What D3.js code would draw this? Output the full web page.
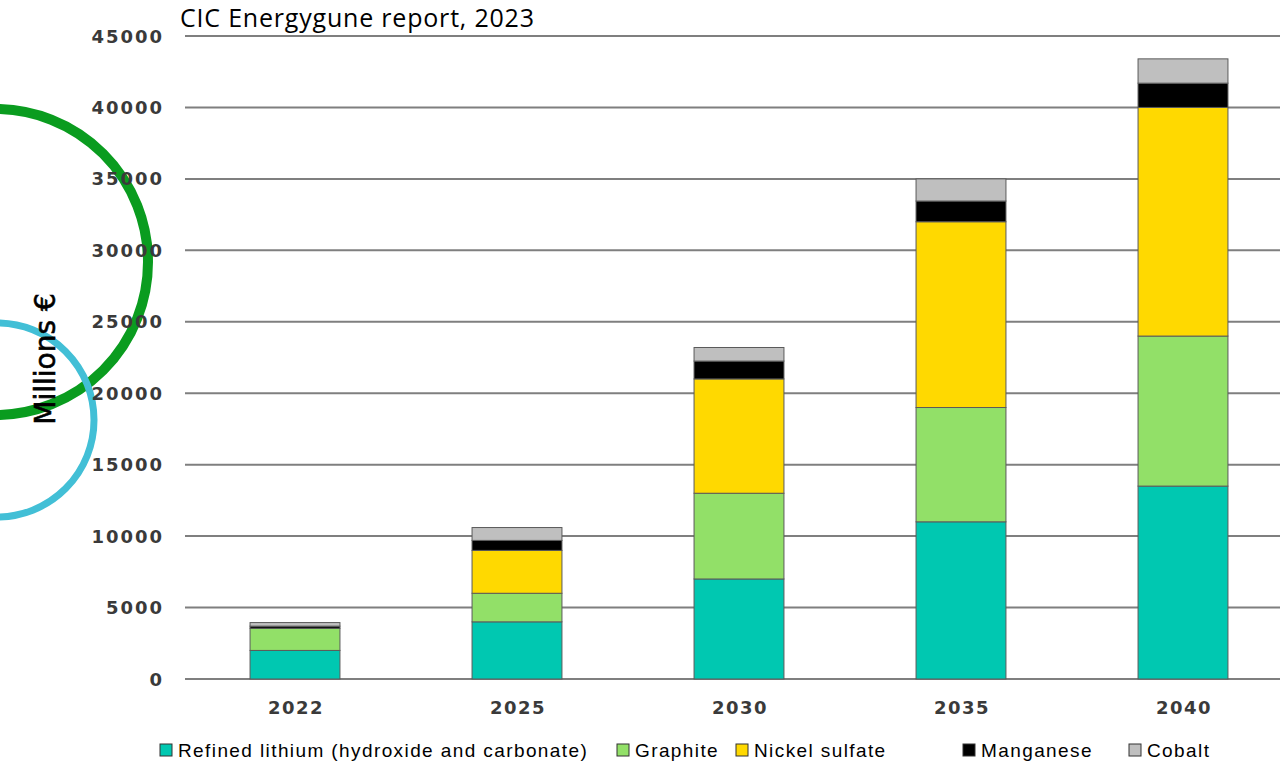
<!DOCTYPE html>
<html><head><meta charset="utf-8">
<script src="https://cdn.jsdelivr.net/npm/d3@7"></script>
<style>body{margin:0;background:#fff}svg{display:block}</style>
</head><body><svg id="c" width="1280" height="761"></svg>
<script>
const years = ["2022","2025","2030","2035","2040"];
const seriesNames = ["Refined lithium (hydroxide and carbonate)","Graphite","Nickel sulfate","Manganese","Cobalt"];
const lithium = [2000,4000,7000,11000,13500];
const graphite = [1550,2000,6000,8000,10500];
const nickel = [0,3000,8000,13000,16000];
const manganese = [150,700,1250,1450,1700];
const cobalt = [250,900,950,1550,1700];
const yTicks = [0,5000,10000,15000,20000,25000,30000,35000,40000,45000];
const colors = ["#00c8b1","#92e068","#ffd900","#000000","#bfbfbf"];

const svg = d3.select("#c");
const rows = years.map((y,i)=>({year:y,s0:lithium[i],s1:graphite[i],s2:nickel[i],s3:manganese[i],s4:cobalt[i]}));
const keys = ["s0","s1","s2","s3","s4"];
const stack = d3.stack().keys(keys)(rows);

const x = d3.scaleBand().domain(years).range([184,1294]).paddingInner(0.595).paddingOuter(0.2975);
const y = d3.scaleLinear().domain([0,45000]).range([679,36]);

// decorative circles
svg.append("circle").attr("cx",-5).attr("cy",262).attr("r",153).attr("fill","none").attr("stroke","#0a9c1f").attr("stroke-width",10);
svg.append("circle").attr("cx",-3).attr("cy",420).attr("r",97).attr("fill","none").attr("stroke","#42bfd6").attr("stroke-width",7);

// gridlines
svg.append("g").selectAll("line").data(yTicks).join("line")
  .attr("x1",185).attr("x2",1280).attr("y1",d=>y(d)).attr("y2",d=>y(d))
  .attr("stroke","#7f7f7f").attr("stroke-width",2);

// y tick labels
svg.append("g").selectAll("text").data(yTicks).join("text")
  .attr("x",164).attr("y",d=>y(d)+6.5).attr("text-anchor","end")
  .attr("font-family","DejaVu Sans").attr("font-weight","bold").attr("font-size",18)
  .attr("fill","#3a3a3a").attr("letter-spacing","2").text(d=>d);

// bars
svg.append("g").selectAll("g").data(stack).join("g")
  .attr("fill",(d,i)=>colors[i])
  .selectAll("rect").data(d=>d).join("rect")
  .attr("x",d=>x(d.data.year)).attr("width",x.bandwidth())
  .attr("y",d=>y(d[1])).attr("height",d=>Math.max(0,y(d[0])-y(d[1])))
  .attr("stroke","#5a5a5a").attr("stroke-width",1);

// x labels
svg.append("g").selectAll("text").data(years).join("text")
  .attr("x",d=>x(d)+x.bandwidth()/2+1).attr("y",714).attr("text-anchor","middle")
  .attr("font-family","DejaVu Sans").attr("font-weight","bold").attr("font-size",18)
  .attr("fill","#3a3a3a").attr("letter-spacing","1.5").text(d=>d);

// title
svg.append("text").attr("x",180).attr("y",27).attr("font-family","Open Sans").attr("font-size",25)
  .attr("fill","#000").attr("letter-spacing","0.8").text("CIC Energygune report, 2023");

// y label
svg.append("text").attr("transform","translate(55,359) rotate(-90)").attr("text-anchor","middle")
  .attr("font-family","DejaVu Sans").attr("font-size",28)
  .attr("fill","#000").attr("stroke","#000").attr("stroke-width",0.6).text("Millions €");

// legend
const legX = [160,617,736,963,1129];
const lg = svg.append("g").selectAll("g").data(seriesNames).join("g")
  .attr("transform",(d,i)=>`translate(${legX[i]},744)`);
lg.append("rect").attr("width",12).attr("height",12).attr("fill",(d,i)=>colors[i]).attr("stroke","#333").attr("stroke-width",1);
lg.append("text").attr("x",18).attr("y",13).attr("font-family","Liberation Sans").attr("font-size",19)
  .attr("fill","#000").attr("letter-spacing","1.4").text(d=>d);
</script></body></html>
